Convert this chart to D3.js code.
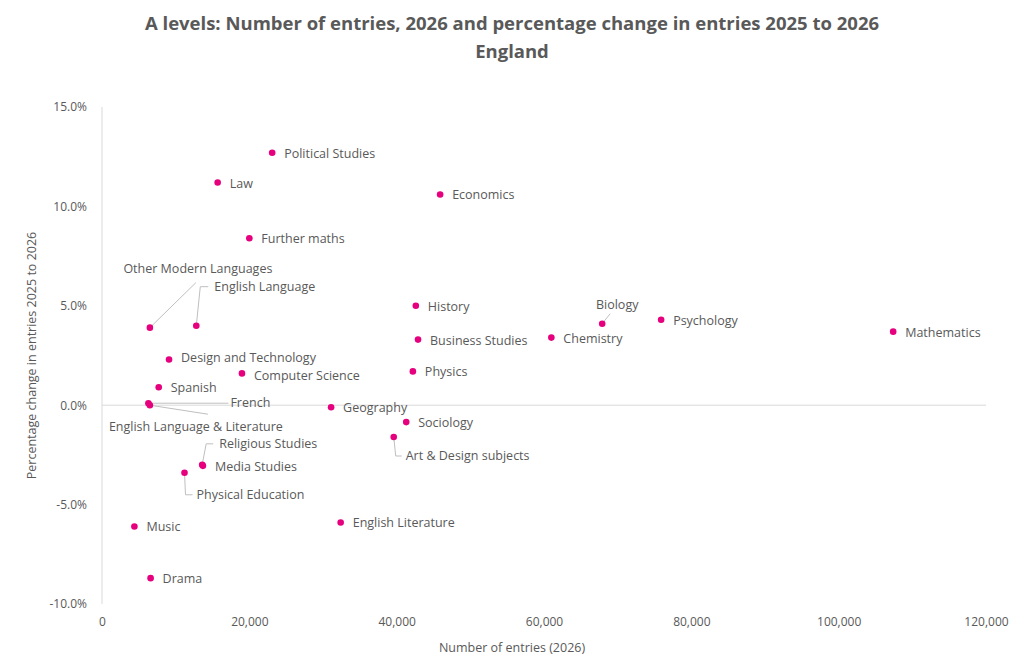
<!DOCTYPE html>
<html><head><meta charset="utf-8">
<script src="https://cdn.jsdelivr.net/npm/d3@7"></script>
<style>body{margin:0;background:#fff;font-family:"Open Sans",sans-serif}</style>
</head><body>
<script>
// subjects, entries (2026) and % change 2025 -> 2026
var subjects = ['Political Studies','Law','Economics','Further maths','Other Modern Languages','English Language','History','Biology','Psychology','Mathematics','Business Studies','Chemistry','Design and Technology','Computer Science','Physics','Spanish','French','English Language & Literature','Geography','Sociology','Art & Design subjects','Religious Studies','Media Studies','Physical Education','Music','English Literature','Drama'];
var entries = [23100,15700,45900,20000,6500,12800,42600,67900,75900,107400,42900,61000,9100,19000,42200,7700,6300,6500,31100,41300,39600,13600,13700,11200,4400,32400,6600];
var change = [12.7,11.2,10.6,8.4,3.9,4.0,5.0,4.1,4.3,3.7,3.3,3.4,2.3,1.6,1.7,0.9,0.1,0.0,-0.1,-0.85,-1.6,-3.0,-3.05,-3.4,-6.1,-5.9,-8.7];
var xTicks = [0,20000,40000,60000,80000,100000,120000];
var yTicks = [-10,-5,0,5,10,15];

// label placement: [dx, dy, anchor, leader path points relative to dot]
var labelPos = {
  'Other Modern Languages': {dx:48,dy:-55,anchor:'middle',line:[[0,0],[46,-45]]},
  'English Language': {dx:18,dy:-35,anchor:'start',line:[[0,0],[4,-39],[12,-39]]},
  'Biology': {dx:15,dy:-15,anchor:'middle',line:[[0,0],[8,-10]]},
  'French': {dx:82,dy:4,anchor:'start',line:[[0,0],[80,0]]},
  'English Language & Literature': {dx:46,dy:26,anchor:'middle',line:[[0,0],[58,9]]},
  'Religious Studies': {dx:17,dy:-17,anchor:'start',line:[[0,0],[4,-21],[11,-21]]},
  'Physical Education': {dx:12,dy:26,anchor:'start',line:[[0,0],[1,22],[8,22]]},
  'Art & Design subjects': {dx:12,dy:23,anchor:'start',line:[[0,0],[2,19],[8,19]]},
  'Computer Science': {dx:12,dy:7,anchor:'start',line:null},
  'Design and Technology': {dx:12,dy:3,anchor:'start',line:null}
};

var W = 1024, H = 668;
var m = {l:102, r:38, t:107, b:64};
var svg = d3.select('body').append('svg').attr('width', W).attr('height', H);

var x = d3.scaleLinear().domain([0,120000]).range([m.l, W - m.r]);
var y = d3.scaleLinear().domain([-10,15]).range([H - m.b, m.t]);

svg.append('text').attr('x', 512).attr('y', 30).attr('text-anchor','middle')
  .attr('fill','#595959').attr('font-weight','bold').attr('font-size',18.5)
  .text('A levels: Number of entries, 2026 and percentage change in entries 2025 to 2026');
svg.append('text').attr('x', 512).attr('y', 58).attr('text-anchor','middle')
  .attr('fill','#595959').attr('font-weight','bold').attr('font-size',18.5)
  .text('England');

// axes
var gx = svg.append('g').attr('transform','translate(0,' + (H - m.b + 8) + ')')
  .call(d3.axisBottom(x).tickValues(xTicks).tickSize(0).tickFormat(d3.format(',')));
var gy = svg.append('g').attr('transform','translate(' + (m.l - 12) + ',0)')
  .call(d3.axisLeft(y).tickValues(yTicks).tickSize(0).tickFormat(function (d) { return d.toFixed(1) + '%'; }));
[gx, gy].forEach(function (g) {
  g.select('.domain').remove();
  g.selectAll('text').attr('fill','#595959').attr('font-size',12).attr('font-family','"Open Sans",sans-serif');
});
gx.selectAll('text').attr('dy','0.9em');

svg.append('line').attr('x1', m.l).attr('x2', m.l).attr('y1', m.t).attr('y2', H - m.b).attr('stroke','#d9d9d9');
svg.append('line').attr('x1', m.l).attr('x2', W - m.r).attr('y1', y(0)).attr('y2', y(0)).attr('stroke','#d9d9d9');

svg.append('text').attr('x', 512).attr('y', 652).attr('text-anchor','middle')
  .attr('fill','#595959').attr('font-size',12.5).text('Number of entries (2026)');
svg.append('text').attr('transform','translate(36,' + y(2.5) + ') rotate(-90)').attr('text-anchor','middle')
  .attr('fill','#595959').attr('font-size',12.5).text('Percentage change in entries 2025 to 2026');

var data = subjects.map(function (s, i) { return {name:s, x:entries[i], y:change[i]}; });

var g = svg.append('g');
var pts = g.selectAll('g.pt').data(data).enter().append('g')
  .attr('transform', function (d) { return 'translate(' + x(d.x) + ',' + y(d.y) + ')'; });

pts.filter(function (d) { return labelPos[d.name] && labelPos[d.name].line; }).append('path')
  .attr('d', function (d) { return d3.line()(labelPos[d.name].line); })
  .attr('fill','none').attr('stroke','#bfbfbf').attr('stroke-width',1);

pts.append('circle').attr('r',3.3).attr('fill','#e6007e');

pts.append('text')
  .attr('x', function (d) { return labelPos[d.name] ? labelPos[d.name].dx : 12; })
  .attr('y', function (d) { return labelPos[d.name] ? labelPos[d.name].dy : 5; })
  .attr('text-anchor', function (d) { return labelPos[d.name] ? labelPos[d.name].anchor : 'start'; })
  .attr('fill','#595959').attr('font-size',12.5)
  .text(function (d) { return d.name; });
</script>
</body></html>
